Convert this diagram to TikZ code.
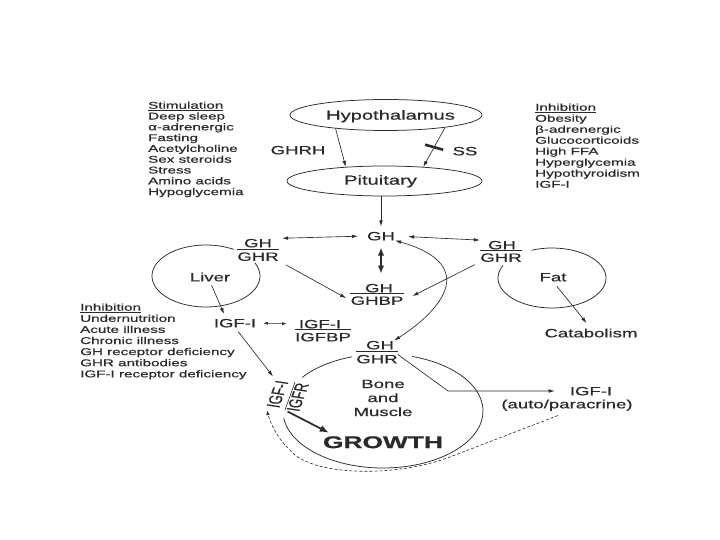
\documentclass[tikz,border=0pt]{standalone}
\usepackage{fontspec}
\setmainfont{Liberation Sans}[FakeStretch=1.55, FakeBold=0.6]
\newfontfamily\plainsans{Liberation Sans}[FakeBold=0.6]
\usetikzlibrary{arrows.meta,calc,shapes.geometric}
\definecolor{ink}{HTML}{2A2A2A}
\newcommand\fracbar[1]{\draw[draw=ink,line width=0.7pt] ([yshift=2.8pt]#1.north west) -- ([yshift=2.8pt]#1.north east);}
\begin{document}
\begin{tikzpicture}[x=1pt,y=-1pt,
  every node/.append style={text=ink},
  >={Latex[length=6pt,width=3.6pt]},
  med/.style={font=\fontsize{12}{14}\selectfont, text height=8.6pt, text depth=0pt, inner sep=0pt},
  big/.style={font=\fontsize{13}{15}\selectfont, text height=9.3pt, text depth=0pt, inner sep=0pt},
  lst/.style={align=left, anchor=north west, inner sep=0pt},
  ln/.style={draw=ink, line width=0.65pt},
  arr/.style={ln,->},
  dbl/.style={ln,<->},
  sdbl/.style={draw=ink, line width=0.5pt, {Latex[length=4.5pt,width=3pt]}-{Latex[length=4.5pt,width=3pt]}},
  tarr/.style={draw=ink, line width=1.7pt, -{Latex[length=9pt,width=7pt]}},
  tdbl/.style={draw=ink, line width=1.7pt, {Latex[length=8pt,width=6.5pt]}-{Latex[length=8pt,width=6.5pt]}},
  ring/.style={draw=ink, line width=0.75pt}]
\useasboundingbox (0,0) rectangle (720,540);
\fill[white] (0,0) rectangle (720,540);

% lists
\node[lst, font=\fontsize{9.8}{10.8}\selectfont] (stim) at (148,101.4)
  {\underline{Stimulation}\\Deep sleep\\α-adrenergic\\Fasting\\Acetylcholine\\Sex steroids\\Stress\\Amino acids\\Hypoglycemia};
\node[lst, font=\fontsize{9.8}{11}\selectfont] (inhA) at (535,103.4)
  {\underline{Inhibition}\\Obesity\\β-adrenergic\\Glucocorticoids\\High FFA\\Hyperglycemia\\Hypothyroidism\\IGF-I};
\node[lst, font=\fontsize{9.8}{11.1}\selectfont] (inhB) at (80,303.4)
  {\underline{Inhibition}\\Undernutrition\\Acute illness\\Chronic illness\\GH receptor deficiency\\GHR antibodies\\IGF-I receptor deficiency};

% ellipses
\node[ellipse, ring, minimum width=192pt, minimum height=31pt, inner sep=0pt] (hyp) at (386,115) {};
\node[ellipse, ring, minimum width=195pt, minimum height=30pt, inner sep=0pt] (pit) at (384.5,181) {};
\node[big] (hypT) at (390.5,115) {Hypothalamus};
\node[big] (pitT) at (380.5,180) {Pituitary};
\node[med] (ghrh) at (298,150) {GHRH};
\node[med] (ss) at (465,151) {SS};

% circles
\draw[ring] (206,276) ++(-59:54 and 31) arc[start angle=-59, end angle=-385, x radius=54, y radius=31];
\draw[ring] (552,278) ++(-155:54 and 30) arc[start angle=-155, end angle=-472, x radius=54, y radius=30];
\draw[ring] (383,411) ++(-108:100 and 57) arc[start angle=-108, end angle=-144, x radius=100, y radius=57];
\draw[ring] (383,411) ++(-187:100 and 57) arc[start angle=-187, end angle=-433, x radius=100, y radius=57];

% nodes
\node[med] (gh) at (381,236) {GH};
\node[med] (ghA) at (258,243) {GH};
\node[med] (ghrA) at (258,256.5) {GHR};
\node[med] (ghB) at (502,245) {GH};
\node[med] (ghrB) at (501,257.5) {GHR};
\node[med] (ghbpN) at (379,288) {GH};
\node[med] (ghbpD) at (377,300.5) {GHBP};
\node[med] (liver) at (210,277) {Liver};
\node[med] (fat) at (553,277) {Fat};
\node[med] (catab) at (591,333) {Catabolism};
\node[med] (igfL) at (235,323) {IGF-I};
\node[med] (igfbpN) at (320,324) {IGF-I};
\node[med] (igfbpD) at (323,337) {IGFBP};
\node[med] (ghC) at (380,345) {GH};
\node[med] (ghrC) at (377,359) {GHR};
\node[font=\fontsize{12}{14}\selectfont, align=center, anchor=north, inner sep=0pt] (bone) at (383,379.6) {Bone\\and\\Muscle};
\node[med] (igfA) at (591,391) {IGF-I};
\node[med] (autoB) at (567,404) {(auto/paracrine)};
\node[font=\fontsize{17}{20}\selectfont\bfseries, text height=12.2pt, text depth=0pt, inner sep=0pt] (growth) at (383,442) {GROWTH};
\begin{scope}[shift={(290,396)}, xscale=1.55]
\node[transform shape, rotate=77, font=\plainsans\fontsize{12}{13}\selectfont, inner sep=0pt] (igfr) at (0,0)
  {\begin{tabular}{@{}c@{}}IGF-I\\\hline IGFR\end{tabular}};
\end{scope}

\fracbar{ghrA}
\fracbar{ghrB}
\fracbar{ghbpD}
\fracbar{igfbpD}
\fracbar{ghrC}

% connectors
\draw[arr] (hyp.195) -- (pit.160);
\draw[arr] (hyp.348) -- (pit.20) coordinate[pos=0.5] (ssmid);
\draw[draw=ink, line width=2.6pt] ($(ssmid)+(-9,-2.5)$) -- ($(ssmid)+(9,2.5)$);
\draw[arr, shorten >=5pt] (pit.south -| gh.north) -- (gh.north);
\draw[dbl, shorten <=10pt, shorten >=9pt] (ghA.north east) -- (gh.west);
\draw[dbl, shorten <=13pt, shorten >=8pt] (gh.east) -- (ghB.north west);
\draw[tdbl, shorten <=7pt, shorten >=10pt] (gh.south) -- (gh.south |- ghbpN.north);
\draw[arr, shorten <=8pt, shorten >=5pt] (ghrA.south east) -- (ghbpD.west);
\draw[arr, shorten <=6pt, shorten >=10pt] (ghrB.south west) -- (ghbpD.east);
\draw[dbl] (gh.south east) .. controls (484,266) and (436,314) .. (ghC.north east);
\draw[sdbl, shorten <=7pt, shorten >=12pt] (igfL.east) -- (igfbpN.west);
\draw[arr, shorten <=4pt, shorten >=5pt] (liver.south) -- ([xshift=-9pt]igfL.north);
\draw[arr, shorten <=5pt, shorten >=3pt] (igfL.south) -- (igfr.north east);
\draw[tarr, shorten <=3pt] (igfr.west) -- ([xshift=6pt,yshift=3pt]growth.north west);
\draw[arr] (ghrC.north east) -- (448,391) -- ([xshift=-15pt]igfA.west);
\draw[arr, shorten <=6pt, shorten >=7pt] (fat.south) -- (catab.north);
\draw[draw=ink, line width=0.6pt, dash pattern=on 3pt off 2pt, -{Latex[length=5pt,width=3.5pt]}]
  ([xshift=-9pt,yshift=-7pt]autoB.south) -- (450,457) .. controls (395,478) and (310,476) .. (290,450)
  .. controls (280,441) and (272,428) .. ([xshift=2pt,yshift=-3pt]igfr.north west);
\end{tikzpicture}
\end{document}
